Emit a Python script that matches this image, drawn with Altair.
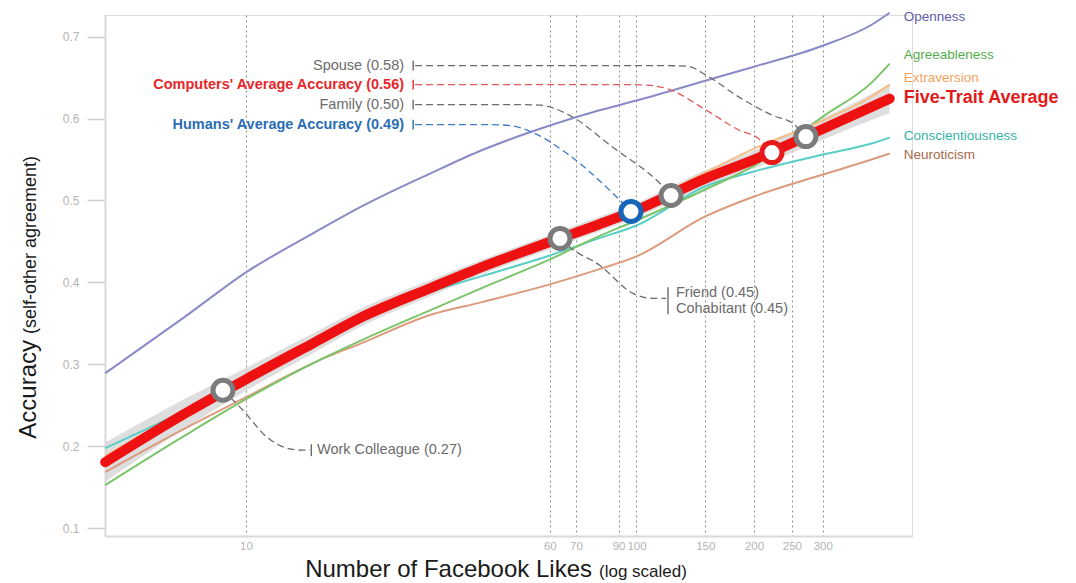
import altair as alt
import pandas as pd

# ---------------- data ----------------
likes = [4.36, 7, 10, 15, 20, 30, 40, 60, 80, 100, 150, 200, 300, 400, 445]

five_trait = [0.1805, 0.2402, 0.2817, 0.3268, 0.3585, 0.3939, 0.4183, 0.4493,
              0.4707, 0.4882, 0.5268, 0.5500, 0.5873, 0.6143, 0.6244]
band_lo = [0.1565, 0.2222, 0.2677, 0.3148, 0.3475, 0.3839, 0.4093, 0.4403,
           0.4617, 0.4792, 0.5168, 0.5390, 0.5743, 0.5983, 0.6064]
band_hi = [0.2045, 0.2582, 0.2957, 0.3388, 0.3695, 0.4039, 0.4273, 0.4583,
           0.4797, 0.4972, 0.5368, 0.5610, 0.6003, 0.6303, 0.6424]

openness = [0.289, 0.3585, 0.4122, 0.461, 0.4939, 0.5341, 0.561, 0.5915,
            0.6098, 0.622, 0.6463, 0.6634, 0.689, 0.7146, 0.7293]
conscientiousness = [0.1976, 0.2439, 0.2841, 0.3256, 0.3537, 0.389, 0.4073, 0.4329,
                     0.4537, 0.4695, 0.5171, 0.5354, 0.5561, 0.5695, 0.5768]
extraversion = [0.1878, 0.2439, 0.2854, 0.3293, 0.361, 0.3976, 0.4207, 0.4512,
                0.4732, 0.4927, 0.5341, 0.5634, 0.5976, 0.6268, 0.6415]
agreeableness = [0.1524, 0.2134, 0.2573, 0.3024, 0.3305, 0.3671, 0.3927, 0.428,
                 0.4561, 0.4756, 0.5134, 0.5427, 0.6024, 0.6439, 0.6671]
neuroticism = [0.1683, 0.222, 0.2598, 0.3024, 0.3268, 0.361, 0.3756, 0.3976,
               0.4159, 0.4317, 0.4805, 0.5049, 0.5317, 0.55, 0.5573]

trait_names = ["Neuroticism", "Conscientiousness", "Agreeableness", "Extraversion", "Openness"]
trait_values = [neuroticism, conscientiousness, agreeableness, extraversion, openness]
trait_colors = ["#dc9b7e", "#58cfc5", "#7cc46a", "#f8bd86", "#8a8ac9"]

# judges (circles)
judge_names = ["Work Colleague", "Friend", "Humans' Average", "Family", "Computers' Average", "Spouse"]
judge_likes = [8.73, 63.7, 96.8, 122.6, 222.3, 271.6]
judge_acc = [0.2683, 0.4537, 0.4866, 0.5061, 0.5585, 0.578]
judge_colors = ["#7b7b7b", "#7b7b7b", "#1666b8", "#7b7b7b", "#e8191b", "#7b7b7b"]

# dashed connectors (waypoints)
conn_spouse_x = [27.1, 120, 135, 151.5, 184, 223.7, 251.7, 271.6]
conn_spouse_y = [0.6646, 0.6646, 0.664, 0.6524, 0.6256, 0.6037, 0.5939, 0.578]
conn_comp_x = [27.1, 95, 105, 119.7, 151.5, 184, 203.5, 222.3]
conn_comp_y = [0.6415, 0.6415, 0.641, 0.6366, 0.6098, 0.5854, 0.5768, 0.5585]
conn_family_x = [27.1, 50, 56.6, 67.55, 87.1, 114.9, 122.6]
conn_family_y = [0.617, 0.617, 0.6165, 0.6037, 0.5646, 0.5207, 0.5061]
conn_humans_x = [27.1, 42, 47.4, 54.3, 66.4, 87.1, 96.8]
conn_humans_y = [0.5927, 0.5927, 0.5915, 0.583, 0.5573, 0.5085, 0.4866]
conn_friend_x = [63.7, 67.55, 80.6, 97.9, 110.2, 119]
conn_friend_y = [0.4537, 0.4427, 0.4207, 0.3866, 0.3805, 0.3805]
conn_work_x = [8.73, 9.82, 11.32, 12.74, 14.0, 14.58]
conn_work_y = [0.2683, 0.2439, 0.211, 0.1976, 0.1951, 0.1951]

# annotation labels
left_labels = ["Spouse (0.58)", "Family (0.50)"]
left_label_y = [0.6646, 0.617]
left_bold_labels = ["Computers' Average Accuracy (0.56)", "Humans' Average Accuracy (0.49)"]
left_bold_y = [0.6415, 0.5927]
left_bold_colors = ["#e8262a", "#2a6db5"]
left_label_x = 25.4
bracket_x = 26.8

right_labels = ["Friend (0.45)", "Cohabitant (0.45)", "Work Colleague (0.27)"]
right_label_x = [126.2, 126.2, 15.2]
right_label_y = [0.3866, 0.367, 0.1951]

trait_labels = ["Openness", "Agreeableness", "Extraversion", "Conscientiousness", "Neuroticism"]
trait_label_y = [0.7235, 0.6782, 0.6499, 0.5789, 0.555]
trait_label_colors = ["#5d5dab", "#55ad4f", "#f3a35f", "#36b3a8", "#a8684a"]
trait_label_x = 483.6
avg_label = "Five-Trait Average"
avg_label_y = 0.6247

x_ticks = [10, 60, 70, 90, 100, 150, 200, 250, 300]
y_ticks = [0.1, 0.2, 0.3, 0.4, 0.5, 0.6, 0.7]

# ---------------- tables ----------------
band_df = pd.DataFrame({"likes": likes, "lo": band_lo, "hi": band_hi, "acc": five_trait})

trait_rows = []
for name, vals, col in zip(trait_names, trait_values, trait_colors):
    for i, (lk, v) in enumerate(zip(likes, vals)):
        trait_rows.append({"trait": name, "likes": lk, "acc": v, "col": col, "ord": i})
trait_df = pd.DataFrame(trait_rows)

conn_rows = []
for name, xs, ys, col in [
    ("spouse", conn_spouse_x, conn_spouse_y, "#6b6b6b"),
    ("computers", conn_comp_x, conn_comp_y, "#e4595b"),
    ("family", conn_family_x, conn_family_y, "#6b6b6b"),
    ("humans", conn_humans_x, conn_humans_y, "#3d7cc9"),
    ("friend", conn_friend_x, conn_friend_y, "#6b6b6b"),
    ("work", conn_work_x, conn_work_y, "#6b6b6b"),
]:
    for i, (a, b) in enumerate(zip(xs, ys)):
        conn_rows.append({"name": name, "likes": a, "acc": b, "col": col, "ord": i})
conn_df = pd.DataFrame(conn_rows)

judge_df = pd.DataFrame({"name": judge_names, "likes": judge_likes,
                         "acc": judge_acc, "col": judge_colors})

all_left_y = left_label_y + left_bold_y
all_left_col = ["#6b6b6b", "#6b6b6b"] + left_bold_colors
bracket_df = pd.DataFrame({
    "x": [bracket_x] * 4 + [120.4, 14.7],
    "y1": [v - 0.006 for v in all_left_y] + [0.361, 0.1878],
    "y2": [v + 0.006 for v in all_left_y] + [0.3939, 0.2024],
    "col": all_left_col + ["#6b6b6b", "#6b6b6b"],
})

left_df = pd.DataFrame({"x": [left_label_x] * 2, "y": left_label_y, "label": left_labels})
left_bold_df = pd.DataFrame({"x": [left_label_x] * 2, "y": left_bold_y,
                             "label": left_bold_labels, "col": left_bold_colors})
right_df = pd.DataFrame({"x": right_label_x, "y": right_label_y, "label": right_labels})
trait_lab_df = pd.DataFrame({"x": [trait_label_x] * 5, "y": trait_label_y,
                             "label": trait_labels, "col": trait_label_colors})
avg_lab_df = pd.DataFrame({"x": [trait_label_x], "y": [avg_label_y], "label": [avg_label]})

# ---------------- scales / axes ----------------
xscale = alt.Scale(type="log", domain=[4.355, 507.6], nice=False)
yscale = alt.Scale(domain=[0.0903, 0.7265], nice=False, zero=False)
xaxis = alt.Axis(values=x_ticks, format="d", grid=True, gridDash=[2, 3], gridColor="#8f8f8f",
                 gridWidth=1, ticks=False, domainColor="#dadada", domainWidth=2,
                 labelColor="#b3b3b3", labelFontSize=11.5, labelPadding=4,
                 labelOverlap=False, title=None)
yaxis = alt.Axis(values=y_ticks, format=".1f", grid=False, tickColor="#cfcfcf", tickSize=18,
                 tickWidth=1.5, domainColor="#dadada", domainWidth=2, labelColor="#b3b3b3",
                 labelFontSize=12, labelPadding=8, title=None)


def X(f):
    return alt.X(f"{f}:Q", scale=xscale, axis=xaxis, title=None)


def Y(f):
    return alt.Y(f"{f}:Q", scale=yscale, axis=yaxis, title=None)


band = alt.Chart(band_df).mark_area(color="#d3d3d3", opacity=0.75, interpolate="monotone").encode(
    x=X("likes"), y=Y("lo"), y2="hi")

traits = alt.Chart(trait_df).mark_line(strokeWidth=2, interpolate="monotone").encode(
    x=X("likes"), y=Y("acc"), color=alt.Color("col:N", scale=None), detail="trait:N",
    order="ord:Q")

avg_line = alt.Chart(band_df).mark_line(strokeWidth=10, color="#ee1111", interpolate="monotone",
                                        strokeCap="round").encode(x=X("likes"), y=Y("acc"))

connectors = alt.Chart(conn_df).mark_line(strokeDash=[7, 4], strokeWidth=1.3,
                                          interpolate="monotone").encode(
    x=X("likes"), y=Y("acc"), color=alt.Color("col:N", scale=None), detail="name:N",
    order="ord:Q")

brackets = alt.Chart(bracket_df).mark_rule(strokeWidth=1.4).encode(
    x=X("x"), y=Y("y1"), y2="y2", color=alt.Color("col:N", scale=None))

left_text = alt.Chart(left_df).mark_text(align="right", baseline="middle", fontSize=14.5,
                                         color="#6b6b6b").encode(
    x=X("x"), y=Y("y"), text="label:N")
left_bold_text = alt.Chart(left_bold_df).mark_text(align="right", baseline="middle", fontSize=14.5,
                                                   fontWeight="bold").encode(
    x=X("x"), y=Y("y"), text="label:N", color=alt.Color("col:N", scale=None))
right_text = alt.Chart(right_df).mark_text(align="left", baseline="middle", fontSize=14.5,
                                           color="#6b6b6b").encode(
    x=X("x"), y=Y("y"), text="label:N")
trait_text = alt.Chart(trait_lab_df).mark_text(align="left", baseline="middle",
                                               fontSize=13.5).encode(
    x=X("x"), y=Y("y"), text="label:N", color=alt.Color("col:N", scale=None))
avg_text = alt.Chart(avg_lab_df).mark_text(align="left", baseline="middle", fontSize=18,
                                           fontWeight="bold", color="#e31a1a").encode(
    x=X("x"), y=Y("y"), text="label:N")

points = alt.Chart(judge_df).mark_point(shape="circle", filled=True, fill="white", size=400,
                                        strokeWidth=5, opacity=1).encode(
    x=X("likes"), y=Y("acc"), stroke=alt.Stroke("col:N", scale=None))

# axis titles (two sizes each)
ytitle_main = alt.Chart(pd.DataFrame({"t": ["Accuracy"]})).mark_text(
    angle=270, align="right", baseline="alphabetic", fontSize=24, color="#1a1a1a").encode(
    x=alt.value(-69), y=alt.value(325), text="t:N")
ytitle_sub = alt.Chart(pd.DataFrame({"t": ["(self-other agreement)"]})).mark_text(
    angle=270, align="left", baseline="alphabetic", fontSize=18, color="#1a1a1a").encode(
    x=alt.value(-69), y=alt.value(319), text="t:N")
xtitle_main = alt.Chart(pd.DataFrame({"t": ["Number of Facebook Likes"]})).mark_text(
    align="right", baseline="alphabetic", fontSize=24, color="#1a1a1a").encode(
    x=alt.value(487), y=alt.value(562), text="t:N")
xtitle_sub = alt.Chart(pd.DataFrame({"t": ["(log scaled)"]})).mark_text(
    align="left", baseline="alphabetic", fontSize=17, color="#1a1a1a").encode(
    x=alt.value(494), y=alt.value(562), text="t:N")

chart = alt.layer(
    band, traits, avg_line, connectors, brackets,
    left_text, left_bold_text, right_text, trait_text, avg_text,
    points, ytitle_main, ytitle_sub, xtitle_main, xtitle_sub,
).properties(
    width=807, height=521,
    padding={"left": 97, "top": 7, "right": 152, "bottom": 48},
    autosize=alt.AutoSizeParams(type="none"),
    background="white",
).configure_view(stroke=None).configure(font="Liberation Sans")

chart.save("out.html", embed_options={"renderer": "svg", "actions": False})
